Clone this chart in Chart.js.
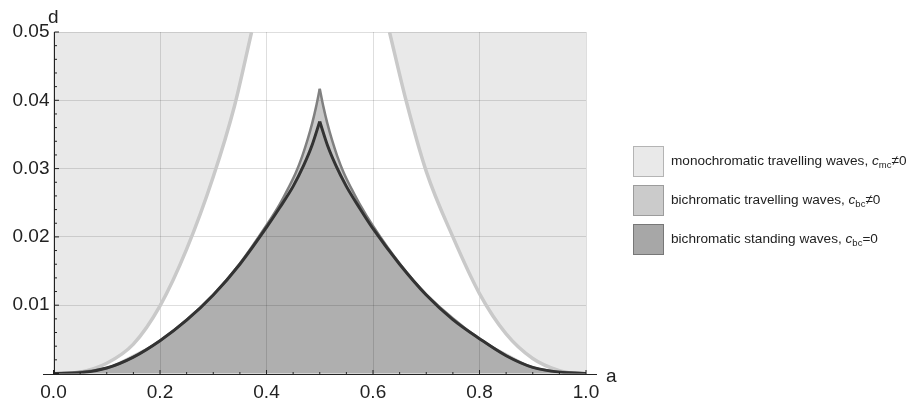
<!DOCTYPE html>
<html>
<head>
<meta charset="utf-8">
<script src="https://cdn.jsdelivr.net/npm/chart.js@4.4.1/dist/chart.umd.min.js"></script>
<style>
    body { margin: 0; background: #fff; }
    #wrap { position: relative; width: 912px; height: 400px; font-family: "Liberation Sans", Arial, sans-serif; }
    .legenda { position: absolute; left: 633px; top: 146px; color: #222; font-size: 13.6px; white-space: nowrap; }
    .item { display: flex; align-items: center; height: 31px; margin-bottom: 8px; }
    .caixa { width: 29px; height: 29px; margin-right: 7px; border: 1px solid; flex: none; }
    sub { font-size: 9.5px; vertical-align: -3px; }
</style>
</head>
<body>
<div id="wrap">
    <canvas id="grafico"></canvas>
    <div class="legenda">
        <div class="item"><span class="caixa" style="background:#e9e9e9;border-color:#b4b4b4"></span><span>monochromatic travelling waves, <i>c</i><sub>mc</sub>≠0</span></div>
        <div class="item"><span class="caixa" style="background:#cbcbcb;border-color:#9c9c9c"></span><span>bichromatic travelling waves, <i>c</i><sub>bc</sub>≠0</span></div>
        <div class="item"><span class="caixa" style="background:#a7a7a7;border-color:#777"></span><span>bichromatic standing waves, <i>c</i><sub>bc</sub>=0</span></div>
    </div>
</div>
<script>
// eixos
const eixoX = 'a';
const eixoY = 'd';
const rotulosX = ['0.0', '0.2', '0.4', '0.6', '0.8', '1.0'];
const rotulosY = ['', '0.01', '0.02', '0.03', '0.04', '0.05'];

// ondas estacionarias (curva escura)
const aEscuraEsq = [0, 0.05, 0.1, 0.15, 0.2, 0.25, 0.3, 0.35, 0.4, 0.425, 0.45, 0.47, 0.485, 0.5];
const dEscuraEsq = [0, 0.0001, 0.0008, 0.0024, 0.0048, 0.0078, 0.0115, 0.0160, 0.0214, 0.0243, 0.0274, 0.0305, 0.0333, 0.0369];
const aEscuraDir = [0.5, 0.515, 0.53, 0.55, 0.575, 0.6, 0.65, 0.7, 0.75, 0.8, 0.85, 0.9, 0.95, 1.0];
const dEscuraDir = [0.0369, 0.0333, 0.0305, 0.0274, 0.0242, 0.0212, 0.0160, 0.0115, 0.0079, 0.0051, 0.0026, 0.0009, 0.0002, 0];

// ondas bicromaticas viajantes (curva media)
const aMediaEsq = [0, 0.1, 0.2, 0.3, 0.35, 0.4, 0.425, 0.44, 0.455, 0.467, 0.477, 0.486, 0.493, 0.5];
const dMediaEsq = [0, 0.0008, 0.0048, 0.0115, 0.0161, 0.0217, 0.0248, 0.0270, 0.0294, 0.0318, 0.0342, 0.0367, 0.0390, 0.0417];
const aMediaDir = [0.5, 0.507, 0.514, 0.523, 0.533, 0.545, 0.56, 0.575, 0.6, 0.65, 0.7, 0.8, 0.9, 1.0];
const dMediaDir = [0.0417, 0.0390, 0.0367, 0.0342, 0.0318, 0.0294, 0.0270, 0.0248, 0.0216, 0.0161, 0.0116, 0.0051, 0.0009, 0];

// ondas monocromaticas (curva clara)
const aClaraEsq = [0, 0.025, 0.05, 0.1, 0.15, 0.2, 0.25, 0.3, 0.34, 0.372];
const dClaraEsq = [0, 0.00002, 0.0002, 0.0015, 0.0043, 0.0099, 0.0182, 0.0288, 0.0392, 0.05];
const aClaraDir = [0.631, 0.662, 0.7, 0.75, 0.8, 0.85, 0.9, 0.95, 0.975, 1.0];
const dClaraDir = [0.05, 0.04, 0.0296, 0.0200, 0.0117, 0.0058, 0.0022, 0.0004, 0.00005, 0];

function pontos(as, ds) {
    return as.map((a, i) => ({ x: a, y: ds[i] }));
}

// linha suave, sem preenchimento (ou com preenchimento proprio)
function curva(as, ds, cor, largura, preenchimento, alvo) {
    return {
        data: pontos(as, ds),
        borderColor: cor,
        borderWidth: largura,
        backgroundColor: preenchimento || 'transparent',
        fill: alvo || false,
        pointRadius: 0,
        cubicInterpolationMode: 'monotone'
    };
}

// area inteira (esquerda + direita) sem borda, para nao ter emenda em a = 0.5
function area(asE, dsE, asD, dsD, preenchimento) {
    return {
        data: pontos(asE.concat(asD.slice(1)), dsE.concat(dsD.slice(1))),
        borderWidth: 0,
        borderColor: 'transparent',
        backgroundColor: preenchimento,
        fill: 'origin',
        pointRadius: 0,
        tension: 0
    };
}

const eixos = {
    id: 'eixos',
    afterDraw(chart) {
        const { ctx, chartArea: ca, scales: { x, y } } = chart;
        const yb = Math.round(y.getPixelForValue(0)) + 0.5;
        const xl = Math.round(x.getPixelForValue(0)) + 0.5;
        ctx.save();
        ctx.strokeStyle = '#222';
        ctx.lineWidth = 1;
        ctx.beginPath();
        ctx.moveTo(ca.left - 10.5, yb);
        ctx.lineTo(ca.right + 11, yb);
        ctx.moveTo(xl, ca.top);
        ctx.lineTo(xl, yb);
        for (let i = 0; i <= 20; i++) {
            const px = x.getPixelForValue(i / 20);
            const len = i % 4 === 0 ? 4.5 : 2.5;
            ctx.moveTo(px, yb);
            ctx.lineTo(px, yb - len);
        }
        for (let i = 0; i <= 25; i++) {
            const py = y.getPixelForValue(i * 0.002);
            const len = i % 5 === 0 ? 4.5 : 2.5;
            ctx.moveTo(xl, py);
            ctx.lineTo(xl + len, py);
        }
        ctx.stroke();
        ctx.fillStyle = '#222';
        ctx.font = '19px "Liberation Sans", Arial, sans-serif';
        ctx.textAlign = 'left';
        ctx.textBaseline = 'alphabetic';
        ctx.fillText(eixoY, ca.left - 5.5, ca.top - 9);
        ctx.fillText(eixoX, ca.right + 20, ca.bottom + 8.5);
        ctx.restore();
    }
};

Chart.defaults.font.family = '"Liberation Sans", Arial, sans-serif';

const ctx = document.getElementById('grafico');

new Chart(ctx, {
    type: 'line',
    data: {
        datasets: [
            curva(aEscuraEsq, dEscuraEsq, '#333', 3),
            curva(aEscuraDir, dEscuraDir, '#333', 3),
            curva(aMediaEsq, dMediaEsq, '#808080', 2.5),
            curva(aMediaDir, dMediaDir, '#808080', 2.5),
            curva(aClaraEsq, dClaraEsq, '#c9c9c9', 3.5, 'rgba(0,0,0,0.086)', 'end'),
            curva(aClaraDir, dClaraDir, '#c9c9c9', 3.5, 'rgba(0,0,0,0.086)', 'end'),
            area(aEscuraEsq, dEscuraEsq, aEscuraDir, dEscuraDir, 'rgba(0,0,0,0.135)'),
            area(aMediaEsq, dMediaEsq, aMediaDir, dMediaDir, 'rgba(0,0,0,0.21)')
        ]
    },
    options: {
        responsive: true,
        maintainAspectRatio: false,
        animation: false,
        layout: { padding: { top: 32, right: 326, left: 0, bottom: 0 } },
        scales: {
            x: {
                type: 'linear',
                min: 0,
                max: 1,
                afterFit: (s) => { s.height = 26.5; },
                border: { display: false },
                grid: { color: 'rgba(0,0,0,0.13)', drawTicks: false },
                ticks: {
                    stepSize: 0.2,
                    padding: 8,
                    color: '#222',
                    font: { size: 19 },
                    maxRotation: 0,
                    callback: (v, i) => rotulosX[i]
                }
            },
            y: {
                min: 0,
                max: 0.05,
                afterFit: (s) => { s.width = 53.5; },
                border: { display: false },
                grid: { color: 'rgba(0,0,0,0.13)', drawTicks: false },
                ticks: {
                    stepSize: 0.01,
                    padding: 4,
                    color: '#222',
                    font: { size: 19 },
                    callback: (v, i) => rotulosY[i]
                }
            }
        },
        plugins: {
            legend: { display: false },
            tooltip: { enabled: false }
        }
    },
    plugins: [eixos]
});
</script>
</body>
</html>
